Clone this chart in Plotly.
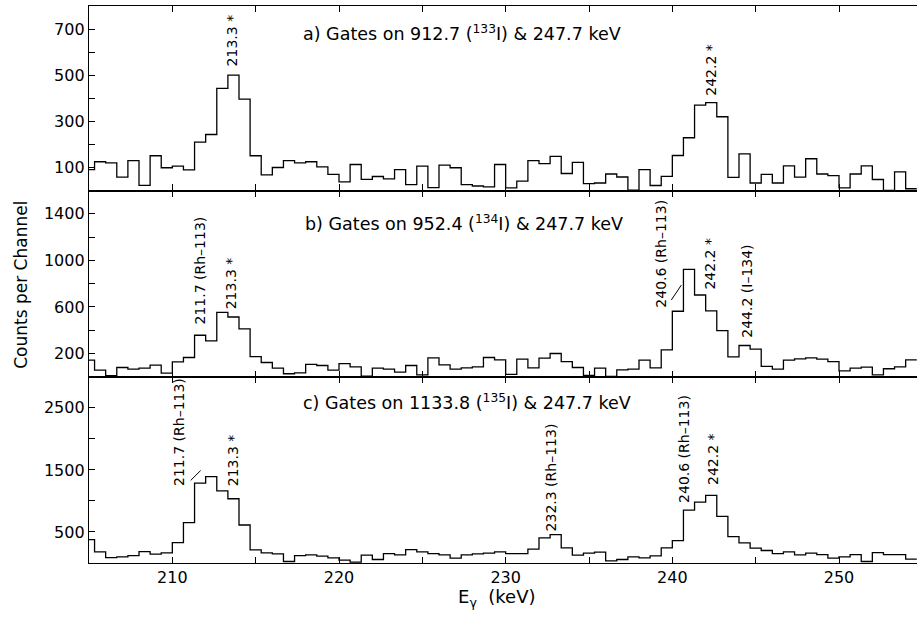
import plotly.graph_objects as go
from plotly.subplots import make_subplots

# ---- data -------------------------------------------------------------
bin_start = 204.6667          # left edge of first channel (keV)
bin_width = 2.0 / 3.0         # keV per channel

counts_a = [91, 125, 120, 58, 130, 23, 151, 99, 106, 90,
            210, 243, 443, 500, 396, 151, 68, 100, 130, 120,
            125, 103, 70, 38, 113, 49, 61, 51, 91, 26,
            106, 13, 110, 99, 26, 20, 16, 113, 12, 41,
            130, 117, 148, 74, 122, 30, 33, 72, 59, 2,
            91, 22, 62, 152, 229, 370, 381, 320, 57, 159,
            33, 70, 33, 107, 58, 138, 72, 65, 12, 72,
            107, 48, 1, 81, 8]

counts_b = [143, 57, 9, 80, 66, 74, 100, 31, 129, 166,
            357, 309, 554, 514, 411, 174, 123, 74, 26, 34,
            106, 97, 57, 114, 86, 5, 74, 66, 40, 97,
            17, 163, 103, 66, 77, 86, 166, 146, 20, 151,
            77, 160, 200, 131, 80, 11, 74, 3, 60, 66,
            143, 77, 231, 563, 923, 703, 566, 397, 171, 269,
            237, 89, 66, 143, 154, 163, 151, 131, 51, 74,
            83, 17, 69, 86, 146]

counts_c = [377, 179, 88, 99, 120, 184, 142, 163, 329, 650,
            1286, 1393, 1163, 1035, 612, 211, 163, 147, 24, 120,
            131, 110, 83, 45, 13, 126, 56, 152, 131, 217,
            179, 152, 131, 78, 131, 147, 158, 179, 152, 152,
            222, 404, 457, 243, 126, 158, 174, 35, 56, 99,
            83, 115, 243, 361, 853, 981, 1088, 751, 425, 324,
            238, 201, 152, 179, 131, 158, 136, 78, 99, 136,
            24, 168, 136, 136, 61]

panel_titles = ["a) Gates on 912.7 (<sup>133</sup>I) &amp; 247.7 keV",
                "b) Gates on 952.4 (<sup>134</sup>I) &amp; 247.7 keV",
                "c) Gates on 1133.8 (<sup>135</sup>I) &amp; 247.7 keV"]

# peak labels: (panel, text, x keV, y counts at label bottom)
peak_labels = [
    (1, "213.3 *", 213.6, 531),
    (1, "242.2 *", 242.3, 401),
    (2, "211.7 (Rh–113)", 211.65, 431),
    (2, "213.3 *", 213.5, 560),
    (2, "240.6 (Rh–113)", 239.3, 574),
    (2, "242.2 *", 242.25, 731),
    (2, "244.2 (I–134)", 244.5, 317),
    (3, "211.7 (Rh–113)", 210.4, 1209),
    (3, "213.3 *", 213.64, 1204),
    (3, "232.3 (Rh–113)", 232.74, 482),
    (3, "240.6 (Rh–113)", 240.7, 936),
    (3, "242.2 *", 242.4, 1230),
]
# leader lines: (panel, x0, y0, x1, y1)
leaders = [
    (2, 239.94, 660, 240.54, 788),
    (3, 211.1, 1330, 211.7, 1490),
]

y_ranges = [[0, 800], [0, 1600], [0, 3000]]
y_tickvals = [[100, 300, 500, 700],
              [200, 600, 1000, 1400],
              [500, 1500, 2500]]
y_minor_step = [100, 200, 500]
x_tickvals = [210, 220, 230, 240, 250]

# ---- figure -----------------------------------------------------------
FONT = "DejaVu Sans"
fig = make_subplots(rows=3, cols=1, shared_xaxes=True, vertical_spacing=0)

n = len(counts_a)
edges = [bin_start + bin_width * k for k in range(n + 1)]
for i, vals in enumerate([counts_a, counts_b, counts_c]):
    fig.add_trace(go.Scatter(x=edges, y=vals + [vals[-1]], mode="lines",
                             line=dict(shape="hv", color="black", width=1.3),
                             showlegend=False, hoverinfo="skip"),
                  row=i + 1, col=1)

domains = [[0.6686, 1.0], [0.3343, 0.6686], [0.0, 0.3343]]
for i in range(3):
    sfx = "" if i == 0 else str(i + 1)
    fig.layout["xaxis" + sfx].update(
        range=[205, 254.68], tickmode="array", tickvals=x_tickvals,
        ticks="inside", ticklen=6, tickwidth=1.2, tickcolor="black",
        minor=dict(tick0=205, dtick=5, ticks="inside", ticklen=6,
                   tickwidth=1.2, tickcolor="black"),
        showline=True, linecolor="black", linewidth=1.3, mirror="allticks",
        showgrid=False, zeroline=False, showticklabels=(i == 2),
        automargin=False,
        tickfont=dict(family=FONT, size=16, color="black"))
    fig.layout["yaxis" + sfx].update(
        domain=domains[i], range=y_ranges[i], tickmode="array",
        tickvals=y_tickvals[i], ticks="inside", ticklen=6, tickwidth=1.2,
        minor=dict(tick0=0, dtick=y_minor_step[i], ticks="inside",
                   ticklen=6, tickwidth=1.2, tickcolor="black"),
        tickcolor="black", showline=True, linecolor="black", linewidth=1.3,
        showgrid=False, zeroline=False, automargin=False,
        tickfont=dict(family=FONT, size=16, color="black"))

title_pos = [(227.4, 683), (227.5, 1320), (227.7, 2589)]
for i, t in enumerate(panel_titles):
    sfx = "" if i == 0 else str(i + 1)
    fig.add_annotation(x=title_pos[i][0], y=title_pos[i][1], xref="x" + sfx,
                       yref="y" + sfx, text=t, showarrow=False,
                       xanchor="center", yanchor="middle",
                       font=dict(family=FONT, size=17.5, color="black"))

for p, txt, xv, yv in peak_labels:
    sfx = "" if p == 1 else str(p)
    fig.add_annotation(x=xv, y=yv, xref="x" + sfx, yref="y" + sfx, text=txt,
                       textangle=-90, showarrow=False, xanchor="center",
                       yanchor="bottom",
                       font=dict(family=FONT, size=14, color="black"))

for p, x0, y0, x1, y1 in leaders:
    sfx = "" if p == 1 else str(p)
    fig.add_shape(type="line", x0=x0, y0=y0, x1=x1, y1=y1, xref="x" + sfx,
                  yref="y" + sfx, line=dict(color="black", width=1))

fig.add_annotation(x=0.493, y=-0.063, xref="paper", yref="paper",
                   text="E<sub>γ</sub>  (keV)", showarrow=False,
                   xanchor="center", yanchor="middle",
                   font=dict(family=FONT, size=18, color="black"))
fig.add_annotation(x=-0.083, y=0.5, xref="paper", yref="paper",
                   text="Counts per Channel", textangle=-90, showarrow=False,
                   xanchor="center", yanchor="middle",
                   font=dict(family=FONT, size=17, color="black"))

fig.update_layout(width=917, height=619, plot_bgcolor="white",
                  paper_bgcolor="white",
                  margin=dict(l=89, r=0, t=6, b=56))

fig.write_html("out.html", config={"displayModeBar": False},
               post_script="document.body.style.margin='0';"
                           "document.body.style.overflow='hidden';")
